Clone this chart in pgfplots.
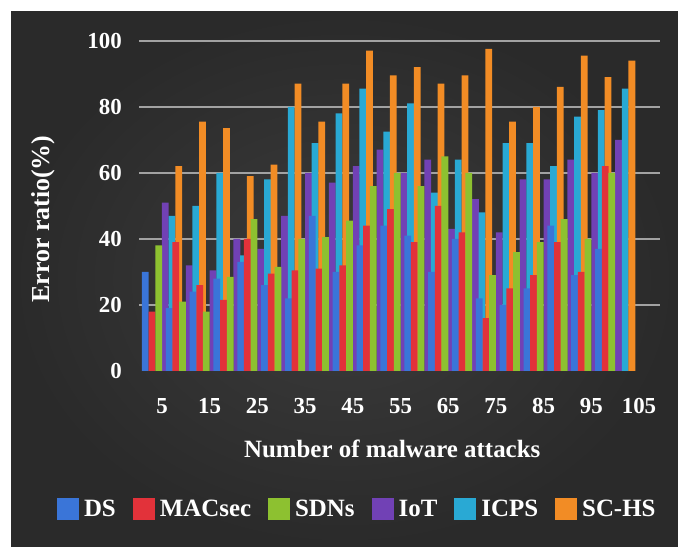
\documentclass[border=0pt]{standalone}
\usepackage{fontspec}
\setmainfont{Liberation Serif}
\usepackage{pgfplots}
\pgfplotsset{compat=1.18}
\usepackage{pgfplotstable}

\definecolor{dsblue}{HTML}{3A75D8}
\definecolor{macred}{HTML}{E2323A}
\definecolor{sdngreen}{HTML}{8DC130}
\definecolor{iotpurple}{HTML}{7141B5}
\definecolor{icpscyan}{HTML}{29A9D4}
\definecolor{scorange}{HTML}{F28C25}
\definecolor{gridgray}{HTML}{A2A2A2}
\definecolor{bginner}{HTML}{3C3C3C}
\definecolor{bgouter}{HTML}{2A2A2A}

% error ratio (%) per number of malware attacks
\pgfplotstableread{
x   DS  MAC   SDN   IoT   ICPS  SC
5   30  18    38    51    47    62
10  19  39    21    32    50    75.5
15  24  26    18    30.5  60    73.5
20  28  21.5  28.5  40    35    59
25  33  40    46    37    58    62.5
30  26  29.5  31.5  47    80    87
35  22  30.5  40    60    69    75.5
40  47  31    40.5  57    78    87
45  30  32    45.5  62    85.5  97
50  38  44    56    67    72.5  89.5
55  44  49    60    60    81    92
60  41  39    56    64    54    87
65  30  50    65    43    64    89.5
70  40  42    60    52    48    97.5
75  22  16    29    42    69    75.5
80  20  25    36    58    69    80
85  25  29    39    58    62    86
90  44  39    46    64    77    95.5
95  29  30    40    60    79    89
100 37  62    60    70    85.5  94
}\errdata

\begin{document}
\begin{tikzpicture}
\path[use as bounding box] (0,0) rectangle (678bp,547bp);
\fill[white] (0,0) rectangle (678bp,547bp);
\shade[inner color=bginner, outer color=bgouter] (11bp,0) rectangle (678bp,535bp);
\begin{axis}[
  at={(139bp,176bp)}, anchor=south west,
  width=521bp, height=330.3bp, scale only axis,
  xmin=0.18, xmax=109.4, ymin=0, ymax=100,
  axis line style={draw=none},
  major tick length=0pt,
  xtick={5,15,...,105},
  ytick={20,40,...,100},
  extra y ticks={0},
  extra y tick style={grid=none},
  ymajorgrids,
  grid style={gridgray, line width=1.7bp},
  /pgf/number format/assume math mode=true,
  ticklabel style={font=\fontsize{23}{23}\selectfont\bfseries, text=white},
  yticklabel style={anchor=east, inner sep=0pt, xshift=-17bp},
  xticklabel style={anchor=north, inner sep=0pt, yshift=-27bp},
  xlabel={Number of malware attacks},
  xlabel style={at={(axis description cs:0.486,-0.2346)}, anchor=center,
    font=\fontsize{25}{25}\selectfont\bfseries, text=white},
  ylabel={Error ratio(\%)},
  ylabel style={at={(axis description cs:-0.184,0.46)}, anchor=center,
    font=\fontsize{26}{26}\selectfont\bfseries, text=white},
  legend columns=6,
  legend image code/.code={\fill[#1] (0bp,-11bp) rectangle (22bp,11bp);},
  legend style={at={(axis description cs:0.417,-0.418)}, anchor=center,
    draw=none, fill=none, text=white, inner sep=0pt,
    font=\fontsize{25}{25}\selectfont\bfseries,
    nodes={inner sep=0pt},
    /tikz/every odd column/.append style={column sep=5bp},
    /tikz/every even column/.append style={column sep=17bp}},
  every axis plot/.append style={ybar, bar width=1.42, draw=none, forget plot},
]
\addlegendimage{fill=dsblue}
\addlegendimage{fill=macred}
\addlegendimage{fill=sdngreen}
\addlegendimage{fill=iotpurple}
\addlegendimage{fill=icpscyan}
\addlegendimage{fill=scorange}
\legend{DS,MACsec,SDNs,IoT,ICPS,SC-HS}

% right half of each cluster first; the next cluster's left half overlaps it
\addplot[fill=iotpurple, bar shift=0.7]  table[x=x, y=IoT]  {\errdata};
\addplot[fill=icpscyan,  bar shift=2.1]  table[x=x, y=ICPS] {\errdata};
\addplot[fill=scorange,  bar shift=3.5]  table[x=x, y=SC]   {\errdata};
\addplot[fill=dsblue,    bar shift=-3.5] table[x=x, y=DS]   {\errdata};
\addplot[fill=macred,    bar shift=-2.1] table[x=x, y=MAC]  {\errdata};
\addplot[fill=sdngreen,  bar shift=-0.7] table[x=x, y=SDN]  {\errdata};
\end{axis}
\end{tikzpicture}
\end{document}
